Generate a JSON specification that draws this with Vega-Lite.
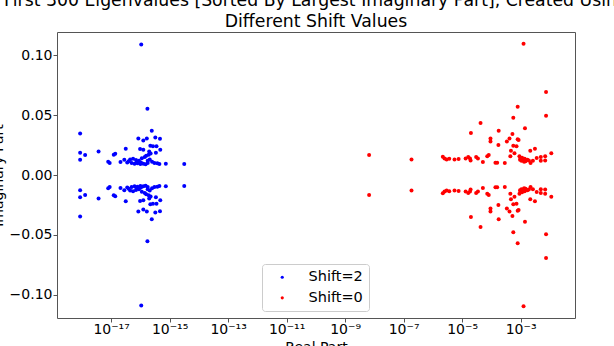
{
  "$schema": "https://vega.github.io/schema/vega-lite/v6.json",
  "width": 518,
  "height": 286,
  "autosize": {"type": "none"},
  "padding": {"left": 57, "top": 32, "right": 39, "bottom": 28},
  "title": {
    "text": ["First 300 Eigenvalues [Sorted By Largest Imaginary Part], Created Using", "Different Shift Values"],
    "font": "DejaVu Sans", "fontSize": 17.3, "fontWeight": "normal", "color": "#000000",
    "anchor": "middle", "frame": "group", "baseline": "bottom", "offset": 1, "dy": 17, "lineHeight": 20.6
  },
  "config": {
    "view": {"stroke": "#555555", "strokeWidth": 1},
    "font": "DejaVu Sans"
  },
  "data": {"values": [
    {"s":"Shift=2","re":1.07e-16,"im":0.1092},{"s":"Shift=2","re":1.74e-16,"im":0.0554},{"s":"Shift=2","re":8.71e-19,"im":0.0348},{"s":"Shift=2","re":2.45e-16,"im":0.037},{"s":"Shift=2","re":8.51e-17,"im":0.0306},{"s":"Shift=2","re":1.26e-16,"im":0.0289},{"s":"Shift=2","re":1.66e-16,"im":0.0306},{"s":"Shift=2","re":3.24e-16,"im":0.0314},{"s":"Shift=2","re":4.68e-16,"im":0.0303},{"s":"Shift=2","re":8.71e-19,"im":0.0186},{"s":"Shift=2","re":1.29e-18,"im":0.0167},{"s":"Shift=2","re":8.71e-19,"im":0.0128},{"s":"Shift=2","re":3.72e-18,"im":0.0197},{"s":"Shift=2","re":3.16e-17,"im":0.022},{"s":"Shift=2","re":2.19e-16,"im":0.0245},{"s":"Shift=2","re":2.69e-16,"im":0.024},{"s":"Shift=2","re":3.55e-16,"im":0.024},{"s":"Shift=2","re":9.77e-17,"im":0.0217},{"s":"Shift=2","re":1.26e-16,"im":0.0211},{"s":"Shift=2","re":4.79e-16,"im":0.0211},{"s":"Shift=2","re":2.0e-16,"im":0.0197},{"s":"Shift=2","re":3.39e-16,"im":0.0186},{"s":"Shift=2","re":1.38e-17,"im":0.0178},{"s":"Shift=2","re":1.23e-17,"im":0.017},{"s":"Shift=2","re":7.94e-18,"im":0.0111},{"s":"Shift=2","re":8.91e-18,"im":0.01},{"s":"Shift=2","re":2.09e-17,"im":0.0109},{"s":"Shift=2","re":2.82e-17,"im":0.0128},{"s":"Shift=2","re":4.47e-17,"im":0.013},{"s":"Shift=2","re":5.62e-17,"im":0.0135},{"s":"Shift=2","re":7.08e-17,"im":0.0125},{"s":"Shift=2","re":8.91e-17,"im":0.012},{"s":"Shift=2","re":1.12e-16,"im":0.014},{"s":"Shift=2","re":1.41e-16,"im":0.015},{"s":"Shift=2","re":1.58e-16,"im":0.016},{"s":"Shift=2","re":1.91e-16,"im":0.017},{"s":"Shift=2","re":2.24e-16,"im":0.018},{"s":"Shift=2","re":3.55e-17,"im":0.0105},{"s":"Shift=2","re":5.01e-17,"im":0.01},{"s":"Shift=2","re":6.31e-17,"im":0.0095},{"s":"Shift=2","re":7.94e-17,"im":0.0098},{"s":"Shift=2","re":1.0e-16,"im":0.0092},{"s":"Shift=2","re":1.26e-16,"im":0.0095},{"s":"Shift=2","re":1.51e-16,"im":0.009},{"s":"Shift=2","re":1.78e-16,"im":0.01},{"s":"Shift=2","re":2.51e-16,"im":0.011},{"s":"Shift=2","re":3.02e-16,"im":0.01},{"s":"Shift=2","re":3.8e-16,"im":0.0098},{"s":"Shift=2","re":4.47e-16,"im":0.0092},{"s":"Shift=2","re":7.41e-16,"im":0.0095},{"s":"Shift=2","re":3.16e-15,"im":0.0092},{"s":"Shift=2","re":2.09e-16,"im":0.013},{"s":"Shift=2","re":1.78e-16,"im":0.012},{"s":"Shift=2","re":3.98e-17,"im":0.0115},{"s":"Shift=2","re":1.05e-16,"im":0.0105},{"s":"Shift=2","re":7.59e-17,"im":0.011},
    {"s":"Shift=2","re":1.07e-16,"im":-0.1092},{"s":"Shift=2","re":1.74e-16,"im":-0.0554},{"s":"Shift=2","re":8.71e-19,"im":-0.0348},{"s":"Shift=2","re":2.45e-16,"im":-0.037},{"s":"Shift=2","re":8.51e-17,"im":-0.0306},{"s":"Shift=2","re":1.26e-16,"im":-0.0289},{"s":"Shift=2","re":1.66e-16,"im":-0.0306},{"s":"Shift=2","re":3.24e-16,"im":-0.0314},{"s":"Shift=2","re":4.68e-16,"im":-0.0303},{"s":"Shift=2","re":8.71e-19,"im":-0.0186},{"s":"Shift=2","re":1.29e-18,"im":-0.0167},{"s":"Shift=2","re":8.71e-19,"im":-0.0128},{"s":"Shift=2","re":3.72e-18,"im":-0.0197},{"s":"Shift=2","re":3.16e-17,"im":-0.022},{"s":"Shift=2","re":2.19e-16,"im":-0.0245},{"s":"Shift=2","re":2.69e-16,"im":-0.024},{"s":"Shift=2","re":3.55e-16,"im":-0.024},{"s":"Shift=2","re":9.77e-17,"im":-0.0217},{"s":"Shift=2","re":1.26e-16,"im":-0.0211},{"s":"Shift=2","re":4.79e-16,"im":-0.0211},{"s":"Shift=2","re":2.0e-16,"im":-0.0197},{"s":"Shift=2","re":3.39e-16,"im":-0.0186},{"s":"Shift=2","re":1.38e-17,"im":-0.0178},{"s":"Shift=2","re":1.23e-17,"im":-0.017},{"s":"Shift=2","re":7.94e-18,"im":-0.0111},{"s":"Shift=2","re":8.91e-18,"im":-0.01},{"s":"Shift=2","re":2.09e-17,"im":-0.0109},{"s":"Shift=2","re":2.82e-17,"im":-0.0128},{"s":"Shift=2","re":4.47e-17,"im":-0.013},{"s":"Shift=2","re":5.62e-17,"im":-0.0135},{"s":"Shift=2","re":7.08e-17,"im":-0.0125},{"s":"Shift=2","re":8.91e-17,"im":-0.012},{"s":"Shift=2","re":1.12e-16,"im":-0.014},{"s":"Shift=2","re":1.41e-16,"im":-0.015},{"s":"Shift=2","re":1.58e-16,"im":-0.016},{"s":"Shift=2","re":1.91e-16,"im":-0.017},{"s":"Shift=2","re":2.24e-16,"im":-0.018},{"s":"Shift=2","re":3.55e-17,"im":-0.0105},{"s":"Shift=2","re":5.01e-17,"im":-0.01},{"s":"Shift=2","re":6.31e-17,"im":-0.0095},{"s":"Shift=2","re":7.94e-17,"im":-0.0098},{"s":"Shift=2","re":1.0e-16,"im":-0.0092},{"s":"Shift=2","re":1.26e-16,"im":-0.0095},{"s":"Shift=2","re":1.51e-16,"im":-0.009},{"s":"Shift=2","re":1.78e-16,"im":-0.01},{"s":"Shift=2","re":2.51e-16,"im":-0.011},{"s":"Shift=2","re":3.02e-16,"im":-0.01},{"s":"Shift=2","re":3.8e-16,"im":-0.0098},{"s":"Shift=2","re":4.47e-16,"im":-0.0092},{"s":"Shift=2","re":7.41e-16,"im":-0.0095},{"s":"Shift=2","re":3.16e-15,"im":-0.0092},{"s":"Shift=2","re":2.09e-16,"im":-0.013},{"s":"Shift=2","re":1.78e-16,"im":-0.012},{"s":"Shift=2","re":3.98e-17,"im":-0.0115},{"s":"Shift=2","re":1.05e-16,"im":-0.0105},{"s":"Shift=2","re":7.59e-17,"im":-0.011},
    {"s":"Shift=0","re":1.26e-3,"im":0.1098},{"s":"Shift=0","re":7.41e-3,"im":0.0694},{"s":"Shift=0","re":7.41e-3,"im":0.0496},{"s":"Shift=0","re":7.94e-4,"im":0.0571},{"s":"Shift=0","re":5.62e-4,"im":0.0479},{"s":"Shift=0","re":4.27e-5,"im":0.0435},{"s":"Shift=0","re":2.0e-5,"im":0.0351},{"s":"Shift=0","re":1.78e-4,"im":0.037},{"s":"Shift=0","re":1.41e-3,"im":0.039},{"s":"Shift=0","re":5.25e-4,"im":0.0343},{"s":"Shift=0","re":9.33e-5,"im":0.0306},{"s":"Shift=0","re":9.33e-5,"im":0.0281},{"s":"Shift=0","re":4.17e-4,"im":0.0306},{"s":"Shift=0","re":7.94e-4,"im":0.0298},{"s":"Shift=0","re":8.51e-4,"im":0.0293},{"s":"Shift=0","re":3.39e-4,"im":0.0281},{"s":"Shift=0","re":1.74e-4,"im":0.0251},{"s":"Shift=0","re":5.62e-4,"im":0.0245},{"s":"Shift=0","re":7.24e-4,"im":0.024},{"s":"Shift=0","re":4.68e-4,"im":0.0203},{"s":"Shift=0","re":6.17e-4,"im":0.0181},{"s":"Shift=0","re":2.14e-3,"im":0.0203},{"s":"Shift=0","re":3.09e-3,"im":0.022},{"s":"Shift=0","re":6.61e-9,"im":0.0167},{"s":"Shift=0","re":1.86e-7,"im":0.013},{"s":"Shift=0","re":2.19e-6,"im":0.0153},{"s":"Shift=0","re":2.51e-6,"im":0.0139},{"s":"Shift=0","re":2.95e-6,"im":0.013},{"s":"Shift=0","re":3.63e-6,"im":0.0136},{"s":"Shift=0","re":5.5e-6,"im":0.013},{"s":"Shift=0","re":7.59e-6,"im":0.0133},{"s":"Shift=0","re":1.32e-5,"im":0.0139},{"s":"Shift=0","re":1.62e-5,"im":0.015},{"s":"Shift=0","re":1.86e-5,"im":0.0139},{"s":"Shift=0","re":1.95e-5,"im":0.0122},{"s":"Shift=0","re":3.02e-5,"im":0.015},{"s":"Shift=0","re":3.47e-5,"im":0.0139},{"s":"Shift=0","re":5.13e-5,"im":0.0109},{"s":"Shift=0","re":7.24e-5,"im":0.0156},{"s":"Shift=0","re":8.13e-5,"im":0.0167},{"s":"Shift=0","re":1.38e-4,"im":0.0103},{"s":"Shift=0","re":1.58e-4,"im":0.0103},{"s":"Shift=0","re":2.88e-4,"im":0.01},{"s":"Shift=0","re":4.47e-4,"im":0.0156},{"s":"Shift=0","re":9.12e-4,"im":0.0156},{"s":"Shift=0","re":1.0e-3,"im":0.0139},{"s":"Shift=0","re":1.07e-3,"im":0.012},{"s":"Shift=0","re":1.23e-3,"im":0.0122},{"s":"Shift=0","re":1.48e-3,"im":0.0114},{"s":"Shift=0","re":1.7e-3,"im":0.0128},{"s":"Shift=0","re":1.91e-3,"im":0.0122},{"s":"Shift=0","re":2.19e-3,"im":0.01},{"s":"Shift=0","re":2.63e-3,"im":0.012},{"s":"Shift=0","re":3.55e-3,"im":0.0142},{"s":"Shift=0","re":4.9e-3,"im":0.015},{"s":"Shift=0","re":6.92e-3,"im":0.0156},{"s":"Shift=0","re":4.9e-3,"im":0.012},{"s":"Shift=0","re":6.92e-3,"im":0.0122},{"s":"Shift=0","re":1.12e-2,"im":0.0181},{"s":"Shift=0","re":9.55e-4,"im":0.0128},{"s":"Shift=0","re":1.12e-3,"im":0.0145},{"s":"Shift=0","re":1.32e-3,"im":0.011},{"s":"Shift=0","re":1.38e-3,"im":0.0135},
    {"s":"Shift=0","re":1.26e-3,"im":-0.1098},{"s":"Shift=0","re":7.41e-3,"im":-0.0694},{"s":"Shift=0","re":7.41e-3,"im":-0.0496},{"s":"Shift=0","re":7.94e-4,"im":-0.0571},{"s":"Shift=0","re":5.62e-4,"im":-0.0479},{"s":"Shift=0","re":4.27e-5,"im":-0.0435},{"s":"Shift=0","re":2.0e-5,"im":-0.0351},{"s":"Shift=0","re":1.78e-4,"im":-0.037},{"s":"Shift=0","re":1.41e-3,"im":-0.039},{"s":"Shift=0","re":5.25e-4,"im":-0.0343},{"s":"Shift=0","re":9.33e-5,"im":-0.0306},{"s":"Shift=0","re":9.33e-5,"im":-0.0281},{"s":"Shift=0","re":4.17e-4,"im":-0.0306},{"s":"Shift=0","re":7.94e-4,"im":-0.0298},{"s":"Shift=0","re":8.51e-4,"im":-0.0293},{"s":"Shift=0","re":3.39e-4,"im":-0.0281},{"s":"Shift=0","re":1.74e-4,"im":-0.0251},{"s":"Shift=0","re":5.62e-4,"im":-0.0245},{"s":"Shift=0","re":7.24e-4,"im":-0.024},{"s":"Shift=0","re":4.68e-4,"im":-0.0203},{"s":"Shift=0","re":6.17e-4,"im":-0.0181},{"s":"Shift=0","re":2.14e-3,"im":-0.0203},{"s":"Shift=0","re":3.09e-3,"im":-0.022},{"s":"Shift=0","re":6.61e-9,"im":-0.0167},{"s":"Shift=0","re":1.86e-7,"im":-0.013},{"s":"Shift=0","re":2.19e-6,"im":-0.0153},{"s":"Shift=0","re":2.51e-6,"im":-0.0139},{"s":"Shift=0","re":2.95e-6,"im":-0.013},{"s":"Shift=0","re":3.63e-6,"im":-0.0136},{"s":"Shift=0","re":5.5e-6,"im":-0.013},{"s":"Shift=0","re":7.59e-6,"im":-0.0133},{"s":"Shift=0","re":1.32e-5,"im":-0.0139},{"s":"Shift=0","re":1.62e-5,"im":-0.015},{"s":"Shift=0","re":1.86e-5,"im":-0.0139},{"s":"Shift=0","re":1.95e-5,"im":-0.0122},{"s":"Shift=0","re":3.02e-5,"im":-0.015},{"s":"Shift=0","re":3.47e-5,"im":-0.0139},{"s":"Shift=0","re":5.13e-5,"im":-0.0109},{"s":"Shift=0","re":7.24e-5,"im":-0.0156},{"s":"Shift=0","re":8.13e-5,"im":-0.0167},{"s":"Shift=0","re":1.38e-4,"im":-0.0103},{"s":"Shift=0","re":1.58e-4,"im":-0.0103},{"s":"Shift=0","re":2.88e-4,"im":-0.01},{"s":"Shift=0","re":4.47e-4,"im":-0.0156},{"s":"Shift=0","re":9.12e-4,"im":-0.0156},{"s":"Shift=0","re":1.0e-3,"im":-0.0139},{"s":"Shift=0","re":1.07e-3,"im":-0.012},{"s":"Shift=0","re":1.23e-3,"im":-0.0122},{"s":"Shift=0","re":1.48e-3,"im":-0.0114},{"s":"Shift=0","re":1.7e-3,"im":-0.0128},{"s":"Shift=0","re":1.91e-3,"im":-0.0122},{"s":"Shift=0","re":2.19e-3,"im":-0.01},{"s":"Shift=0","re":2.63e-3,"im":-0.012},{"s":"Shift=0","re":3.55e-3,"im":-0.0142},{"s":"Shift=0","re":4.9e-3,"im":-0.015},{"s":"Shift=0","re":6.92e-3,"im":-0.0156},{"s":"Shift=0","re":4.9e-3,"im":-0.012},{"s":"Shift=0","re":6.92e-3,"im":-0.0122},{"s":"Shift=0","re":1.12e-2,"im":-0.0181},{"s":"Shift=0","re":9.55e-4,"im":-0.0128},{"s":"Shift=0","re":1.12e-3,"im":-0.0145},{"s":"Shift=0","re":1.32e-3,"im":-0.011},{"s":"Shift=0","re":1.38e-3,"im":-0.0135}
  ]},
  "mark": {"type": "point", "filled": true, "opacity": 1, "size": 16, "shape": "circle"},
  "encoding": {
    "x": {
      "field": "re", "type": "quantitative",
      "scale": {"type": "log", "domain": [1.41e-19, 0.0724], "nice": false},
      "axis": {
        "values": [1e-17, 1e-15, 1e-13, 1e-11, 1e-9, 1e-7, 1e-5, 1e-3],
        "labelExpr": "'10⁻' + (abs(round(log(datum.value)/LN10)) >= 10 ? '¹' : '') + ['⁰','¹','²','³','⁴','⁵','⁶','⁷','⁸','⁹'][abs(round(log(datum.value)/LN10)) % 10]",
        "title": "Real Part", "titleFont": "DejaVu Sans", "titleFontSize": 14, "titleFontWeight": "normal", "titleColor": "#000000",
        "titleBaseline": "alphabetic", "titleY": 33, "titleX": 259, "titleAlign": "center", "titlePadding": 0,
        "labelFont": "DejaVu Sans", "labelFontSize": 14, "labelColor": "#000000", "labelPadding": 0, "labelFlush": false, "labelOverlap": false,
        "domain": false, "grid": false, "ticks": true, "tickSize": 4, "tickColor": "#555555"
      }
    },
    "y": {
      "field": "im", "type": "quantitative",
      "scale": {"domain": [-0.1196, 0.1196], "nice": false, "zero": false},
      "axis": {
        "values": [-0.1, -0.05, 0, 0.05, 0.1], "format": ".2f",
        "title": "Imaginary Part", "titleFont": "DejaVu Sans", "titleFontSize": 14, "titleFontWeight": "normal", "titleColor": "#000000",
        "titleAngle": -90, "titleBaseline": "alphabetic", "titleX": -55, "titleY": 143, "titleAlign": "center",
        "labelFont": "DejaVu Sans", "labelFontSize": 14, "labelColor": "#000000", "labelPadding": 1, "labelFlush": false, "labelOverlap": false,
        "domain": false, "grid": false, "ticks": true, "tickSize": 4, "tickColor": "#555555"
      }
    },
    "color": {
      "field": "s", "type": "nominal",
      "scale": {"domain": ["Shift=2", "Shift=0"], "range": ["#0000ff", "#ff0000"]},
      "legend": {
        "title": null, "orient": "none", "legendX": 205, "legendY": 232,
        "padding": 6, "symbolOffset": 7, "labelOffset": 19, "rowPadding": 5.6,
        "fillColor": "#ffffff", "strokeColor": "#cccccc", "cornerRadius": 3,
        "symbolType": "circle", "symbolSize": 10, "symbolStrokeWidth": 0,
        "labelFont": "DejaVu Sans", "labelFontSize": 14.5, "labelColor": "#000000"
      }
    }
  }
}
